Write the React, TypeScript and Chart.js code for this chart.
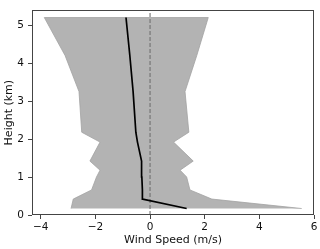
import React, { useEffect, useRef } from "react";
import { Chart, registerables } from "chart.js";

Chart.register(...registerables);

// Heights (km) of the profile levels
const heights = [0.17, 0.42, 0.66, 1.0, 1.18, 1.42, 1.92, 2.18, 3.25, 4.2, 5.2];
// Minimum wind speed (m/s) at each level
const minWind = [-2.89, -2.81, -2.14, -1.96, -1.83, -2.2, -1.83, -2.5, -2.6, -3.11, -3.87];
// Maximum wind speed (m/s) at each level
const maxWind = [5.55, 2.26, 1.46, 1.34, 1.1, 1.58, 0.86, 1.42, 1.28, 1.71, 2.13];
// Mean wind speed (m/s) at each level
const meanWind = [1.34, -0.27, -0.28, -0.3, -0.31, -0.31, -0.46, -0.52, -0.62, -0.74, -0.88];

const xTicks = [-4, -2, 0, 2, 4, 6];
const yTicks = [0, 1, 2, 3, 4, 5];
const xRange = [-4.32, 6.0];
const yRange = [0, 5.39];

const fmt = (v: number) => (v < 0 ? "\u2212" + Math.abs(v) : String(v));

const boxPlugin = {
  id: "box",
  afterDraw(chart: any) {
    const { ctx, chartArea: a } = chart;
    ctx.save();
    ctx.strokeStyle = "#444";
    ctx.lineWidth = 1;
    ctx.strokeRect(Math.round(a.left) + 0.5, Math.round(a.top) + 0.5, Math.round(a.right - a.left) - 1, Math.round(a.bottom - a.top) - 1);
    ctx.restore();
  },
};

export default function App() {
  const ref = useRef<HTMLCanvasElement>(null);

  useEffect(() => {
    document.body.style.margin = "0";
    const canvas = ref.current;
    if (!canvas) return;

    const lower = heights.map((h, i) => ({ x: minWind[i], y: h }));
    const upper = heights.map((h, i) => ({ x: maxWind[i], y: h })).reverse();
    const outline = lower.concat(upper);
    const mean = heights.map((h, i) => ({ x: meanWind[i], y: h }));
    const zero = yRange.map((h) => ({ x: 0, y: h }));

    Chart.defaults.font.family = "'DejaVu Sans', sans-serif";
    Chart.defaults.font.size = 10;
    Chart.defaults.color = "#111";

    const chart = new Chart(canvas, {
      type: "scatter",
      data: {
        datasets: [
          {
            data: mean,
            showLine: true,
            borderColor: "#000",
            borderWidth: 1.7,
            pointRadius: 0,
            fill: false,
            order: 1,
          },
          {
            data: zero,
            showLine: true,
            borderColor: "#707070",
            borderWidth: 1.1,
            borderDash: [4, 2],
            pointRadius: 0,
            fill: false,
            order: 2,
          },
          {
            data: outline,
            showLine: true,
            borderColor: "#a2a2a2",
            borderWidth: 0.8,
            backgroundColor: "#b3b3b3",
            pointRadius: 0,
            fill: "shape",
            order: 3,
          } as any,
        ],
      },
      options: {
        animation: false,
        responsive: true,
        maintainAspectRatio: false,
        layout: { padding: { top: 5, right: 6, left: 0, bottom: 0 } },
        plugins: { legend: { display: false }, tooltip: { enabled: false } },
        scales: {
          x: {
            type: "linear",
            min: xRange[0],
            max: xRange[1],
            afterBuildTicks: (s: any) => {
              s.ticks = xTicks.map((v) => ({ value: v }));
            },
            afterFit: (s: any) => {
              s.height = 34;
            },
            ticks: { callback: (v: any) => fmt(Number(v)), padding: 2, maxRotation: 0, autoSkip: false, font: { size: 10.5 } },
            grid: { drawOnChartArea: false, drawTicks: true, tickLength: 4, color: "#444" },
            border: { display: false },
            title: { display: true, text: "Wind Speed (m/s)", padding: { top: 0, bottom: 2 }, font: { size: 11 } },
          },
          y: {
            type: "linear",
            min: yRange[0],
            max: yRange[1],
            afterBuildTicks: (s: any) => {
              s.ticks = yTicks.map((v) => ({ value: v }));
            },
            afterFit: (s: any) => {
              s.width = 32;
            },
            ticks: { callback: (v: any) => fmt(Number(v)), padding: 4, autoSkip: false, font: { size: 10.5 } },
            grid: { drawOnChartArea: false, drawTicks: true, tickLength: 4, color: "#444" },
            border: { display: false },
            title: { display: true, text: "Height (km)", padding: { top: 2.5, bottom: 0 }, font: { size: 11 } },
          },
        },
      },
      plugins: [boxPlugin],
    });

    return () => chart.destroy();
  }, []);

  return (
    <div style={{ position: "relative", width: 320, height: 249 }}>
      <canvas ref={ref} />
    </div>
  );
}
